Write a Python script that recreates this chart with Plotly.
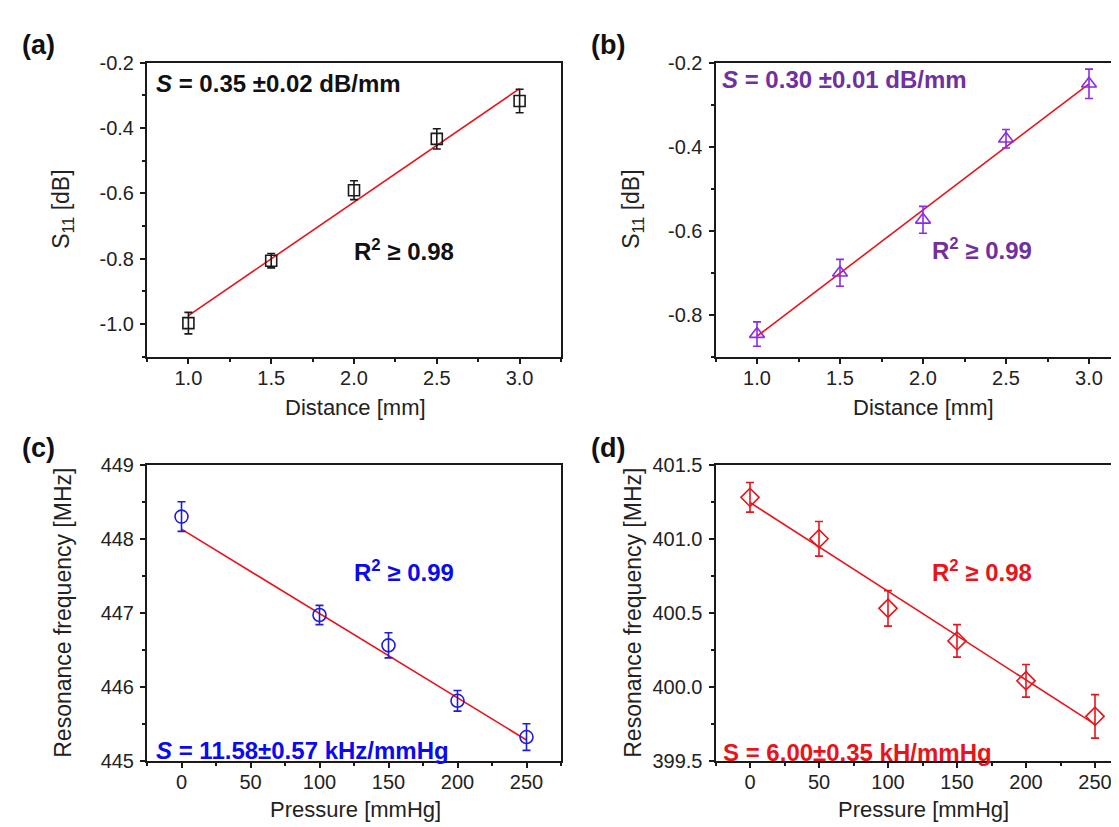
import plotly.graph_objects as go

W, H = 1119, 827

# ---------------- data ----------------
a_x = [1.0, 1.5, 2.0, 2.5, 3.0]
a_y = [-0.997, -0.806, -0.590, -0.433, -0.317]
a_err = [0.033, 0.022, 0.029, 0.031, 0.036]
a_fit_x = [1.0, 3.0]
a_fit_y = [-0.974, -0.279]

b_x = [1.0, 1.5, 2.0, 2.5, 3.0]
b_y = [-0.846, -0.700, -0.574, -0.381, -0.250]
b_err = [0.029, 0.032, 0.032, 0.022, 0.035]
b_fit_x = [1.0, 3.0]
b_fit_y = [-0.851, -0.250]

c_x = [0, 100, 150, 200, 250]
c_y = [448.30, 446.97, 446.56, 445.81, 445.32]
c_err = [0.20, 0.13, 0.17, 0.14, 0.18]
c_fit_x = [0, 250]
c_fit_y = [448.13, 445.28]

d_x = [0, 50, 100, 150, 200, 250]
d_y = [401.28, 401.00, 400.53, 400.31, 400.04, 399.80]
d_err = [0.10, 0.117, 0.12, 0.11, 0.11, 0.147]
d_fit_x = [0, 250]
d_fit_y = [401.245, 399.746]

# tick labels
dist_ticks = [1.0, 1.5, 2.0, 2.5, 3.0]
dist_labels = ["1.0", "1.5", "2.0", "2.5", "3.0"]
a_yticks = [-1.0, -0.8, -0.6, -0.4, -0.2]
a_ylabels = ["-1.0", "-0.8", "-0.6", "-0.4", "-0.2"]
b_yticks = [-0.8, -0.6, -0.4, -0.2]
b_ylabels = ["-0.8", "-0.6", "-0.4", "-0.2"]
p_ticks = [0, 50, 100, 150, 200, 250]
p_labels = ["0", "50", "100", "150", "200", "250"]
c_yticks = [445, 446, 447, 448, 449]
c_ylabels = ["445", "446", "447", "448", "449"]
d_yticks = [399.5, 400.0, 400.5, 401.0, 401.5]
d_ylabels = ["399.5", "400.0", "400.5", "401.0", "401.5"]

# ---------------- style ----------------
FONT = "Arial, Liberation Sans, sans-serif"
AX = "#1a1a1a"
FIT = "#E8141C"
C_A, T_A = "#1a1a1a", "#111111"
C_B, T_B = "#8B2BE2", "#7030A0"
C_C, T_C = "#1E1ED8", "#0A0AEE"
C_D, T_D = "#E8141C", "#E8141C"


def px(x, y):
    return x / W, 1 - y / H


fig = go.Figure()


def add_panel(xs, ys, errs, fx, fy, color, symbol, size, xa, ya):
    fig.add_trace(go.Scatter(x=fx, y=fy, mode="lines",
                             line=dict(color=FIT, width=1.6),
                             xaxis=xa, yaxis=ya, showlegend=False, hoverinfo="skip"))
    fig.add_trace(go.Scatter(x=xs, y=ys, mode="markers",
                             marker=dict(symbol=symbol, size=size, color=color,
                                         line=dict(color=color, width=1.6)),
                             error_y=dict(type="data", array=errs, visible=True,
                                          color=color, thickness=1.6, width=4),
                             xaxis=xa, yaxis=ya, showlegend=False))


add_panel(a_x, a_y, a_err, a_fit_x, a_fit_y, C_A, "square-open", 11, "x", "y")
add_panel(b_x, b_y, b_err, b_fit_x, b_fit_y, C_B, "triangle-up-open", 13, "x2", "y2")
add_panel(c_x, c_y, c_err, c_fit_x, c_fit_y, C_C, "circle-open", 13, "x3", "y3")
add_panel(d_x, d_y, d_err, d_fit_x, d_fit_y, C_D, "diamond-open", 14, "x4", "y4")


def axis(domain, rng, tvals, ttext, mdtick, mtick0, anchor, mirror=True, standoff=2):
    return dict(domain=domain, range=rng, anchor=anchor,
                showline=True, linecolor=AX, linewidth=2, mirror=mirror,
                showgrid=False, zeroline=False,
                ticks="outside", ticklen=5, tickwidth=1.5, tickcolor=AX,
                tickmode="array", tickvals=tvals, ticktext=ttext,
                ticklabelstandoff=standoff,
                tickfont=dict(family=FONT, size=20, color="#222222"),
                minor=dict(ticks="outside", ticklen=3, tickwidth=1.5, tickcolor=AX,
                           tickmode="linear", dtick=mdtick, tick0=mtick0, showgrid=False),
                fixedrange=True)


xl = [139 / W, 553 / W]
xr = [707.5 / W, 1.0]
yt = [1 - 347 / H, 1 - 45 / H]
yb = [1 - 762 / H, 1 - 458 / H]

fig.update_layout(
    width=W, height=H,
    margin=dict(l=0, r=0, t=0, b=0),
    paper_bgcolor="white", plot_bgcolor="white",
    font=dict(family=FONT, color="#222222"),
    xaxis=axis(xl, [0.75, 3.25], dist_ticks, dist_labels, 0.25, 0.75, "y", standoff=-3),
    yaxis=axis(yt, [-1.1, -0.2], a_yticks, a_ylabels, 0.1, -0.1, "x"),
    xaxis2=axis(xr, [0.75, 0.75 + (1119 - 707.5) / 166.0], dist_ticks, dist_labels, 0.25, 0.75, "y2", standoff=-3),
    yaxis2=axis(yt, [-0.9, -0.2], b_yticks, b_ylabels, 0.1, -0.1, "x2", mirror=False),
    xaxis3=axis(xl, [-25, 275], p_ticks, p_labels, 25, 0, "y3", standoff=-3),
    yaxis3=axis(yb, [445, 449], c_yticks, c_ylabels, 0.5, 445, "x3"),
    xaxis4=axis(xr, [-25, -25 + (1119 - 707.5) / 1.38], p_ticks, p_labels, 25, 0, "y4", standoff=-3),
    yaxis4=axis(yb, [399.5, 401.5], d_yticks, d_ylabels, 0.25, 399.5, "x4", mirror=False),
)

ann = []


def text(x, y, s, size, color, xanchor="center", angle=0):
    X, Y = px(x, y)
    ann.append(dict(x=X, y=Y, xref="paper", yref="paper", text=s, showarrow=False,
                    xanchor=xanchor, yanchor="middle", textangle=angle,
                    font=dict(family=FONT, size=size, color=color)))


# panel labels
for lbl, x, y in [("(a)", 30, 27), ("(b)", 600, 27), ("(c)", 30, 441), ("(d)", 600, 441)]:
    text(x, y, "<b>%s</b>" % lbl, 27, "#111111")

# axis titles
text(347, 399, "Distance [mm]", 22, "#222222")
text(915, 399, "Distance [mm]", 22, "#222222")
text(347, 812, "Pressure [mmHg]", 22, "#222222")
text(915, 812, "Pressure [mmHg]", 22, "#222222")
text(55, 196, "S<sub>11</sub> [dB]", 23, "#222222", angle=-90)
text(625, 196, "S<sub>11</sub> [dB]", 23, "#222222", angle=-90)
text(55, 610, "Resonance frequency [MHz]", 23, "#222222", angle=-90)
text(625, 610, "Resonance frequency [MHz]", 23, "#222222", angle=-90)

# in-plot annotations
text(146, 66, "<b><i>S</i> = 0.35 ±0.02 dB/mm</b>", 24, T_A, xanchor="left")
text(344, 237, "<b>R<sup>2</sup> ≥ 0.98</b>", 24, T_A, xanchor="left")
text(712, 62, "<b><i>S</i> = 0.30 ±0.01 dB/mm</b>", 24, T_B, xanchor="left")
text(922, 236, "<b>R<sup>2</sup> ≥ 0.99</b>", 24, T_B, xanchor="left")
text(344, 567, "<b>R<sup>2</sup> ≥ 0.99</b>", 24, T_C, xanchor="left")
text(146, 752, "<b><i>S</i> = 11.58±0.57 kHz/mmHg</b>", 24, T_C, xanchor="left")
text(922, 567, "<b>R<sup>2</sup> ≥ 0.98</b>", 24, T_D, xanchor="left")
text(713, 754, "<b>S = 6.00±0.35 kH/mmHg</b>", 24, T_D, xanchor="left")

fig.update_layout(annotations=ann)

fig.write_html("out.html")
